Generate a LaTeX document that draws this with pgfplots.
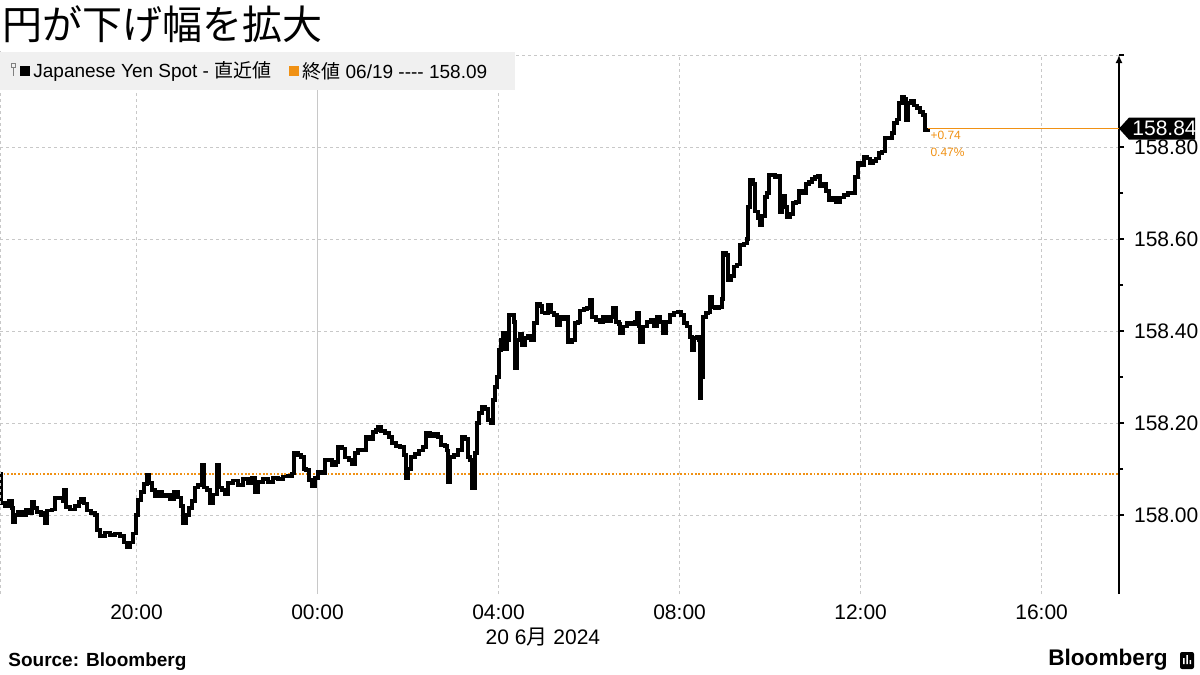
\documentclass[border=0pt]{standalone}
\usepackage{fontspec}
\setmainfont{Liberation Sans}
\newfontfamily\cjk{Noto Sans CJK JP}
\usepackage{pgfplots}
\pgfplotsset{compat=1.18}
\usetikzlibrary{arrows.meta}
\definecolor{bbgrid}{RGB}{200,200,200}
\definecolor{bborange}{RGB}{240,145,20}
\definecolor{legbg}{RGB}{240,240,240}

\begin{document}
\begin{tikzpicture}[x=1pt,y=1pt]
% 1 px of the reference = 0.5pt; plot area bottom-left at (0,0)
\path[use as bounding box] (0,-40.5) rectangle (600,297);
\begin{axis}[
  at={(0,0)}, anchor=south west,
  scale only axis, width=559.5pt, height=269.5pt,
  xmin=-7.017, xmax=17.71,
  ymin=157.8283, ymax=159.0,
  axis y line=right, axis x line*=bottom,
  x axis line style={draw=none},
  y axis line style={black, line width=0.9pt, -{Latex[length=4pt,width=3.5pt]}},
  xtick={-4,4,8,12,16},
  xticklabels={20:00,04:00,08:00,12:00,16:00},
  extra x ticks={0}, extra x tick labels={00:00},
  extra x tick style={major grid style={solid, bbgrid, line width=0.6pt}},
  xtick style={draw=none},
  ytick={158,158.2,158.4,158.6,158.8},
  extra y ticks={159}, extra y tick labels={},
  minor y tick num=1,
  tick align=outside,
  major tick length=2.5pt, minor tick length=2pt,
  ytick style={black, line width=0.6pt},
  grid=major,
  major grid style={bbgrid, line width=0.5pt, dash pattern=on 1.5pt off 1.5pt},
  /pgf/number format/assume math mode=true,
  yticklabel={\pgfmathprintnumber[fixed, fixed zerofill, precision=2]{\tick}},
  tick label style={font=\fontsize{10.5}{12}\selectfont},
  yticklabel style={xshift=1.5pt},
  xticklabel style={yshift=0.8pt},
  clip=false,
]
\addplot[bborange, line width=0.9pt, dash pattern=on 0.9pt off 0.9pt] coordinates {(-7.017,158.09) (17.71,158.09)};
\addplot[bborange, line width=0.6pt] coordinates {(13.492,158.84) (17.71,158.84)};
\addplot[const plot, black, line width=1.8pt] table {
x y
-7.017 158.090
-6.995 158.026
-6.906 158.020
-6.818 158.030
-6.751 158.015
-6.729 157.985
-6.685 158.000
-6.619 158.007
-6.530 158.000
-6.442 158.012
-6.354 158.005
-6.309 158.028
-6.265 158.015
-6.199 158.007
-6.111 158.000
-6.066 158.005
-6.022 157.983
-5.978 158.010
-5.867 158.012
-5.801 158.037
-5.691 158.037
-5.624 158.030
-5.602 158.054
-5.558 158.017
-5.470 158.012
-5.359 158.020
-5.271 158.028
-5.227 158.036
-5.160 158.025
-5.094 158.010
-5.006 158.005
-4.917 158.000
-4.873 157.968
-4.807 157.955
-4.696 157.962
-4.586 157.957
-4.475 157.960
-4.365 157.955
-4.276 157.940
-4.210 157.930
-4.144 157.940
-4.078 157.960
-4.011 158.000
-3.967 158.033
-3.901 158.050
-3.835 158.067
-3.768 158.087
-3.724 158.070
-3.657 158.055
-3.591 158.040
-3.525 158.050
-3.437 158.040
-3.348 158.045
-3.260 158.035
-3.171 158.050
-3.083 158.038
-3.017 158.020
-2.972 157.983
-2.906 158.000
-2.840 158.015
-2.774 158.030
-2.707 158.060
-2.641 158.065
-2.553 158.109
-2.508 158.060
-2.442 158.055
-2.376 158.025
-2.309 158.045
-2.221 158.109
-2.177 158.060
-2.111 158.054
-2.044 158.045
-1.978 158.070
-1.867 158.075
-1.757 158.065
-1.646 158.078
-1.536 158.070
-1.448 158.080
-1.381 158.050
-1.315 158.072
-1.205 158.078
-1.094 158.072
-0.984 158.080
-0.873 158.078
-0.762 158.084
-0.652 158.085
-0.564 158.090
-0.519 158.135
-0.431 158.130
-0.365 158.126
-0.298 158.100
-0.254 158.098
-0.188 158.076
-0.122 158.063
-0.055 158.080
0.011 158.093
0.099 158.090
0.166 158.120
0.254 158.120
0.320 158.109
0.409 158.115
0.453 158.148
0.541 158.145
0.608 158.125
0.696 158.120
0.762 158.110
0.829 158.135
0.895 158.141
0.983 158.140
1.072 158.170
1.160 158.165
1.226 158.180
1.293 158.185
1.337 158.191
1.403 158.182
1.492 158.178
1.580 158.170
1.646 158.157
1.735 158.150
1.823 158.148
1.912 158.130
1.956 158.080
2.000 158.100
2.066 158.126
2.155 158.132
2.243 158.140
2.331 158.148
2.398 158.178
2.486 158.172
2.575 158.176
2.663 158.170
2.729 158.152
2.818 158.150
2.862 158.140
2.884 158.072
2.928 158.126
3.017 158.130
3.105 158.141
3.193 158.170
3.260 158.165
3.326 158.126
3.370 158.120
3.414 158.059
3.481 158.135
3.525 158.200
3.569 158.222
3.635 158.235
3.702 158.230
3.768 158.207
3.834 158.200
3.878 158.250
3.923 158.278
3.967 158.300
4.011 158.359
4.055 158.380
4.099 158.396
4.144 158.360
4.188 158.380
4.232 158.435
4.298 158.435
4.343 158.420
4.365 158.320
4.409 158.380
4.475 158.395
4.519 158.370
4.586 158.385
4.652 158.390
4.718 158.380
4.785 158.417
4.851 158.460
4.917 158.455
4.961 158.440
5.028 158.439
5.094 158.458
5.160 158.440
5.227 158.435
5.293 158.413
5.359 158.430
5.425 158.425
5.492 158.430
5.536 158.376
5.624 158.380
5.691 158.417
5.757 158.420
5.801 158.445
5.889 158.448
5.956 158.450
6.022 158.467
6.066 158.430
6.155 158.424
6.243 158.420
6.309 158.430
6.398 158.422
6.486 158.430
6.530 158.450
6.597 158.420
6.663 158.415
6.685 158.396
6.751 158.410
6.840 158.417
6.928 158.415
7.017 158.420
7.061 158.440
7.105 158.410
7.127 158.376
7.193 158.410
7.282 158.420
7.370 158.425
7.436 158.410
7.503 158.430
7.569 158.420
7.635 158.395
7.702 158.420
7.790 158.435
7.878 158.440
7.967 158.442
8.033 158.435
8.099 158.417
8.166 158.410
8.232 158.387
8.276 158.359
8.320 158.385
8.387 158.387
8.431 158.380
8.453 158.254
8.475 158.300
8.519 158.430
8.586 158.439
8.630 158.440
8.674 158.474
8.718 158.452
8.785 158.450
8.873 158.452
8.939 158.470
8.961 158.570
9.028 158.565
9.072 158.511
9.138 158.520
9.204 158.540
9.271 158.545
9.337 158.587
9.425 158.590
9.492 158.600
9.514 158.670
9.558 158.728
9.624 158.720
9.668 158.660
9.735 158.646
9.779 158.630
9.823 158.650
9.889 158.691
9.934 158.700
9.978 158.739
10.044 158.740
10.110 158.735
10.177 158.738
10.221 158.659
10.265 158.693
10.331 158.670
10.376 158.648
10.442 158.655
10.508 158.678
10.574 158.680
10.641 158.704
10.707 158.700
10.795 158.720
10.862 158.724
10.928 158.730
10.994 158.735
11.061 158.738
11.105 158.715
11.171 158.720
11.237 158.705
11.304 158.685
11.370 158.690
11.459 158.680
11.547 158.690
11.635 158.696
11.724 158.700
11.812 158.700
11.878 158.735
11.945 158.765
12.011 158.760
12.077 158.778
12.144 158.775
12.210 158.765
12.276 158.770
12.343 158.775
12.409 158.787
12.475 158.790
12.541 158.820
12.630 158.820
12.696 158.830
12.740 158.852
12.807 158.860
12.851 158.896
12.917 158.909
12.961 158.905
13.006 158.859
13.050 158.896
13.116 158.900
13.182 158.890
13.249 158.885
13.315 158.876
13.381 158.870
13.425 158.837
13.492 158.840
};
% left border of the plot area
\draw[bbgrid, line width=0.5pt, dash pattern=on 1.5pt off 1.5pt] (rel axis cs:0,0) -- (rel axis cs:0,1.01);
% last value tag
\fill[black] (axis cs:17.71,158.84) -- ++(5pt,5.5pt) -- ++(33pt,0pt) -- ++(0pt,-11pt) -- ++(-33pt,0pt) -- cycle;
\node[white, font=\fontsize{10.5}{12}\selectfont, anchor=west, inner sep=0pt] at ([xshift=6.5pt]axis cs:17.71,158.84) {158.84};
\node[bborange, font=\fontsize{6}{7}\selectfont, anchor=west, inner sep=0pt] at ([xshift=1pt, yshift=-3.5pt]axis cs:13.492,158.84) {+0.74};
\node[bborange, font=\fontsize{6}{7}\selectfont, anchor=west, inner sep=0pt] at ([xshift=1pt, yshift=-12pt]axis cs:13.492,158.84) {0.47\%};
% date under the time labels
\node[font=\fontsize{10.5}{12}\selectfont, inner sep=0pt] at ([yshift=-21.5pt]axis cs:4.98,157.8283) {20 6{\cjk 月} 2024};
\end{axis}
% title
\node[anchor=west, inner sep=0pt, font=\cjk\fontsize{20}{22}\selectfont] at (1,285) {円が下げ幅を拡大};
% legend
\fill[legbg] (0,252) rectangle (257.5,271);
\draw[gray, line width=0.4pt] (5.5,263.5) rectangle (7.5,265.5) (6.5,263.5) -- (6.5,259);
\fill[black] (10,258.8) rectangle (15,263.8);
\node[anchor=west, inner sep=0pt, font=\fontsize{9.5}{11}\selectfont] at (16.5,261.3) {Japanese Yen Spot - {\cjk 直近値}};
\fill[bborange] (144.5,258.8) rectangle (149.5,263.8);
\node[anchor=west, inner sep=0pt, font=\fontsize{9.5}{11}\selectfont] at (151,261.3) {{\cjk 終値} 06/19 {-}{-}{-}{-} 158.09};
% footer
\node[anchor=west, inner sep=0pt, font=\bfseries\fontsize{9.5}{11}\selectfont] at (4,-34) {Source: Bloomberg};
\node[anchor=east, inner sep=0pt, font=\bfseries\fontsize{11.3}{13}\selectfont] at (584,-33) {Bloomberg};
\fill[black, rounded corners=1pt] (590,-37.5) rectangle (597,-29);
\fill[white] (591.6,-35) rectangle (592.3,-32) (593.2,-35) rectangle (593.9,-30.5) (594.8,-35) rectangle (595.5,-33);
\end{tikzpicture}
\end{document}
